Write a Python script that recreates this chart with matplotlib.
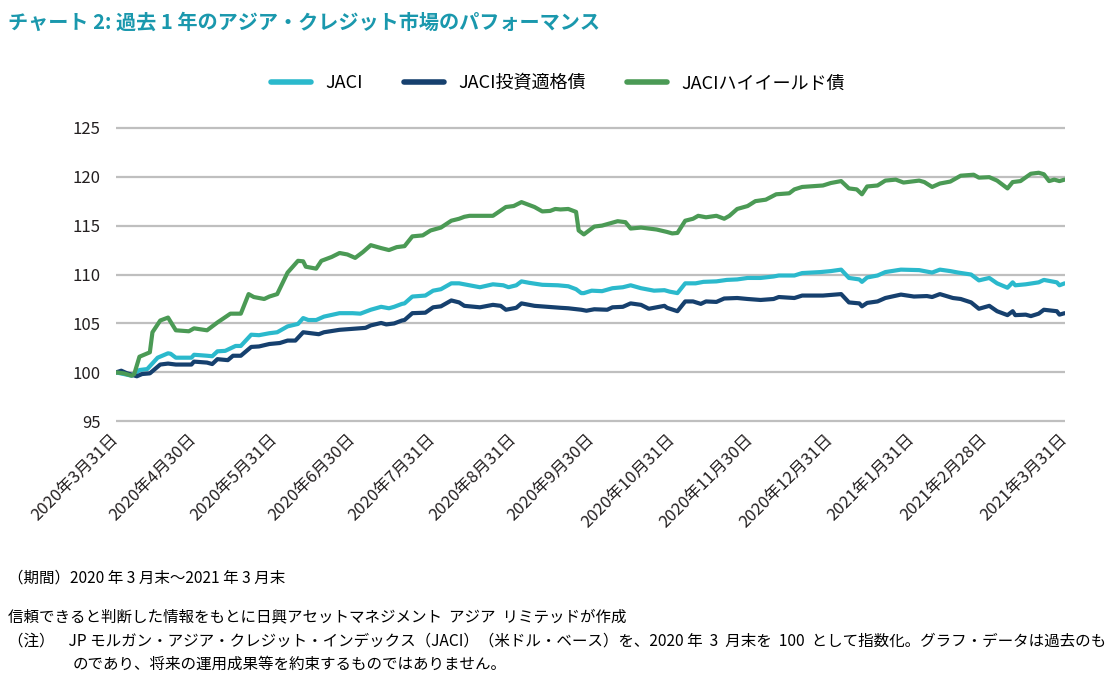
import matplotlib
matplotlib.use('Agg')
import matplotlib.pyplot as plt
import pandas as pd

plt.rcParams['font.family'] = ['Noto Sans CJK JP', 'DejaVu Sans']

start_date = '2020-03-31'

month_ends = ['2020-03-31', '2020-04-30', '2020-05-31', '2020-06-30', '2020-07-31',
              '2020-08-31', '2020-09-30', '2020-10-31', '2020-11-30', '2020-12-31',
              '2021-01-31', '2021-02-28', '2021-03-31']
tick_labels = ['2020年3月31日', '2020年4月30日', '2020年5月31日', '2020年6月30日',
               '2020年7月31日', '2020年8月31日', '2020年9月30日', '2020年10月31日',
               '2020年11月30日', '2020年12月31日', '2021年1月31日', '2021年2月28日',
               '2021年3月31日']
y_ticks = [95, 100, 105, 110, 115, 120, 125]

series_names = ['JACI', 'JACI投資適格債', 'JACIハイイールド債']

# days since 2020-03-31, index value
jaci_days = [0, 6, 9, 12, 16, 20, 21, 23, 29, 30, 35, 37, 39, 42, 46, 48, 52, 55, 59, 62,
             66, 70, 72, 74, 77, 80, 86, 91, 94, 98, 102, 105, 107, 110, 111, 114, 119,
             122, 125, 129, 132, 135, 140, 145, 149, 151, 154, 156, 159, 164, 170, 174,
             177, 179, 180, 183, 187, 191, 195, 198, 202, 207, 211, 213, 216, 219, 223,
             226, 231, 235, 239, 243, 248, 253, 255, 261, 264, 271, 275, 279, 282, 286,
             287, 289, 293, 296, 302, 309, 314, 317, 321, 324, 329, 332, 336, 339, 343,
             345, 346, 350, 355, 357, 362, 363, 365]
jaci_vals = [100.0, 99.66, 100.24, 100.34, 101.5, 101.95, 101.9, 101.5, 101.5, 101.8, 101.7,
             101.65, 102.15, 102.2, 102.7, 102.7, 103.85, 103.8, 104.0, 104.1, 104.7,
             104.95, 105.55, 105.35, 105.35, 105.7, 106.05, 106.05, 106.0, 106.4, 106.7,
             106.55, 106.7, 107.0, 107.05, 107.75, 107.85, 108.35, 108.5, 109.1, 109.1,
             108.95, 108.7, 109.0, 108.9, 108.7, 108.9, 109.3, 109.15, 108.95, 108.9,
             108.8, 108.5, 108.1, 108.1, 108.35, 108.3, 108.6, 108.7, 108.9, 108.6, 108.35,
             108.4, 108.25, 108.1, 109.1, 109.1, 109.25, 109.3, 109.45, 109.5, 109.65,
             109.65, 109.8, 109.9, 109.9, 110.15, 110.25, 110.35, 110.5, 109.65, 109.5,
             109.25, 109.7, 109.9, 110.25, 110.5, 110.45, 110.2, 110.5, 110.35, 110.2,
             110.0, 109.4, 109.65, 109.1, 108.65, 109.2, 108.9, 109.0, 109.2, 109.45,
             109.2, 108.9, 109.1]

ig_days = [0, 2, 4, 8, 10, 13, 17, 20, 23, 29, 30, 35, 37, 39, 43, 45, 48, 52, 55, 59, 63,
           66, 69, 72, 78, 80, 86, 91, 96, 98, 102, 104, 107, 110, 111, 114, 119, 122,
           125, 129, 132, 134, 140, 145, 148, 150, 154, 156, 161, 166, 171, 174, 179, 181,
           184, 189, 191, 195, 198, 202, 205, 211, 212, 216, 219, 222, 225, 227, 231, 234,
           239, 243, 248, 253, 255, 261, 264, 272, 279, 282, 286, 287, 289, 293, 296, 302,
           307, 312, 314, 317, 322, 325, 329, 332, 336, 339, 343, 345, 346, 350, 352, 355,
           357, 362, 363, 365]
ig_vals = [100.0, 100.17, 99.93, 99.6, 99.83, 99.9, 100.8, 100.9, 100.8, 100.8, 101.1,
           101.0, 100.85, 101.35, 101.25, 101.7, 101.7, 102.6, 102.65, 102.9, 103.0, 103.25,
           103.25, 104.1, 103.9, 104.1, 104.35, 104.45, 104.55, 104.8, 105.05, 104.9, 105.0,
           105.3, 105.35, 106.05, 106.1, 106.65, 106.75, 107.35, 107.15, 106.8, 106.65,
           106.9, 106.8, 106.4, 106.6, 107.05, 106.8, 106.7, 106.6, 106.55, 106.4, 106.3,
           106.45, 106.4, 106.65, 106.7, 107.05, 106.9, 106.5, 106.8, 106.6, 106.25, 107.25,
           107.25, 107.0, 107.25, 107.2, 107.55, 107.6, 107.5, 107.4, 107.5, 107.7, 107.6,
           107.85, 107.85, 108.0, 107.15, 107.05, 106.75, 107.1, 107.25, 107.6, 107.95,
           107.75, 107.8, 107.7, 108.0, 107.6, 107.5, 107.15, 106.5, 106.8, 106.25, 105.85,
           106.25, 105.85, 105.9, 105.75, 106.0, 106.4, 106.25, 105.9, 106.05]

hy_days = [0, 3, 6, 7, 9, 13, 14, 17, 20, 23, 28, 30, 35, 39, 44, 48, 51, 53, 57, 59, 62,
           66, 70, 72, 73, 77, 79, 83, 86, 89, 92, 95, 98, 102, 105, 108, 111, 114, 118,
           121, 125, 129, 132, 134, 136, 145, 150, 153, 156, 158, 161, 164, 167, 169, 171,
           174, 177, 178, 180, 184, 187, 193, 196, 198, 202, 205, 208, 212, 214, 216, 219,
           222, 224, 227, 231, 234, 236, 239, 243, 246, 250, 254, 259, 261, 264, 272, 275,
           279, 282, 285, 287, 289, 293, 296, 300, 303, 309, 311, 314, 317, 321, 325, 330,
           332, 336, 339, 343, 345, 348, 352, 355, 357, 359, 361, 363, 365]
hy_vals = [100.0, 99.9, 99.66, 99.83, 101.6, 102.05, 104.1, 105.3, 105.6, 104.3, 104.2,
           104.5, 104.3, 105.1, 106.0, 106.0, 108.0, 107.7, 107.5, 107.75, 108.0, 110.2,
           111.4, 111.35, 110.8, 110.6, 111.4, 111.8, 112.2, 112.05, 111.7, 112.3, 113.0,
           112.7, 112.5, 112.8, 112.9, 113.9, 114.0, 114.5, 114.8, 115.5, 115.7, 115.9,
           116.0, 116.0, 116.9, 117.0, 117.4, 117.2, 116.9, 116.45, 116.5, 116.7, 116.65,
           116.7, 116.4, 114.5, 114.1, 114.9, 115.0, 115.45, 115.35, 114.7, 114.8, 114.7,
           114.6, 114.35, 114.2, 114.25, 115.5, 115.7, 116.0, 115.85, 116.0, 115.7, 116.0,
           116.7, 117.0, 117.5, 117.65, 118.2, 118.3, 118.7, 118.95, 119.1, 119.35, 119.55,
           118.8, 118.7, 118.2, 119.0, 119.1, 119.6, 119.7, 119.4, 119.6, 119.45, 118.95,
           119.3, 119.5, 120.1, 120.2, 119.9, 119.95, 119.6, 118.8, 119.45, 119.55, 120.3,
           120.4, 120.25, 119.55, 119.7, 119.55, 119.7]

colors = ['#2bb9cc', '#16406e', '#4b9a55']

title = 'チャート 2: 過去 1 年のアジア・クレジット市場のパフォーマンス'
note_period = '（期間）2020 年 3 月末～2021 年 3 月末'
note_source = '信頼できると判断した情報をもとに日興アセットマネジメント  アジア  リミテッドが作成'
note_1 = '（注）    JP モルガン・アジア・クレジット・インデックス（JACI）（米ドル・ベース）を、2020 年  3  月末を  100  として指数化。グラフ・データは過去のも'
note_2 = 'のであり、将来の運用成果等を約束するものではありません。'


def to_dates(days):
    return pd.Timestamp(start_date) + pd.to_timedelta(days, unit='D')


fig = plt.figure(figsize=(11.16, 6.95), dpi=100)
ax = fig.add_axes([0.104, 0.391, 0.850, 0.428])

for days, vals, name, c in zip([jaci_days, ig_days, hy_days],
                               [jaci_vals, ig_vals, hy_vals],
                               series_names, colors):
    ax.plot(to_dates(days), vals, color=c, lw=3.0, label=name,
            solid_joinstyle='round', solid_capstyle='round', zorder=3)

ax.set_xlim(pd.Timestamp(month_ends[0]), pd.Timestamp(month_ends[-1]))
ax.set_ylim(94.8, 125.2)
ax.set_yticks(y_ticks)
ax.set_xticks(pd.to_datetime(month_ends))
ax.set_xticklabels(tick_labels, rotation=45, ha='right', va='center',
                   rotation_mode='anchor', fontsize=12, color='#231f20')
ax.tick_params(axis='y', labelsize=12, labelcolor='#231f20', length=0, pad=11)
ax.tick_params(axis='x', length=0, pad=10)
ax.grid(axis='y', color='#bfbfbf', lw=1.6, zorder=0)
for s in ax.spines.values():
    s.set_visible(False)

leg = fig.legend(loc='center', bbox_to_anchor=(0.5, 0.880), ncol=3, frameon=False,
                 fontsize=13, handlelength=2.2, handletextpad=0.8, columnspacing=2.3)
for line in leg.get_lines():
    line.set_linewidth(4)

fig.text(0.007, 0.968, title, fontsize=14.5, fontweight='bold', color='#1a98ad',
         va='center')
fig.text(0.007, 0.168, note_period, fontsize=11.2, va='center')
fig.text(0.007, 0.112, note_source, fontsize=11.2, va='center')
fig.text(0.007, 0.078, note_1, fontsize=11.2, va='center')
fig.text(0.065, 0.044, note_2, fontsize=11.2, va='center')

fig.savefig('out.png', dpi=100)
